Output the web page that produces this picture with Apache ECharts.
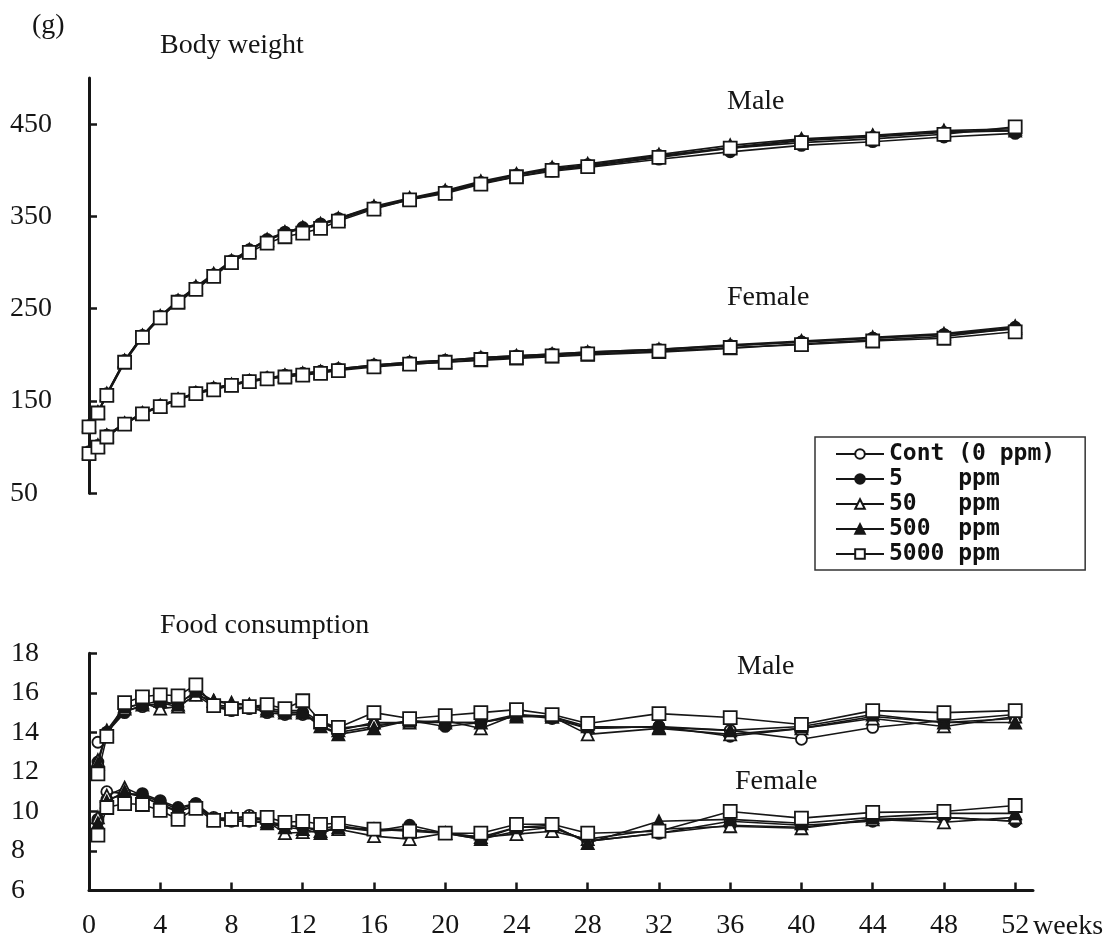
<!DOCTYPE html>
<html>
<head>
<meta charset="utf-8">
<script src="https://cdn.jsdelivr.net/npm/echarts@6/dist/echarts.min.js"></script>
<style>html,body{margin:0;padding:0;background:#fff}#c{width:1118px;height:942px}</style>
</head>
<body>
<div id="c"></div>
<script>
// ---- categories / x values ----
const weeksBW = [0, 0.5, 1, 2, 3, 4, 5, 6, 7, 8, 9, 10, 11, 12, 13, 14, 16, 18, 20, 22, 24, 26, 28, 32, 36, 40, 44, 48, 52];
const weeksFC = [0.5, 1, 2, 3, 4, 5, 6, 7, 8, 9, 10, 11, 12, 13, 14, 16, 18, 20, 22, 24, 26, 28, 32, 36, 40, 44, 48, 52];
const doseNames = ['Cont (0 ppm)', '5    ppm', '50   ppm', '500  ppm', '5000 ppm'];

// ---- Body weight (g), male ----
const bwMaleCont = [123, 138, 158, 194, 221, 242, 259, 273, 287, 302, 314, 325, 333, 338, 342, 348, 360, 369, 377, 387, 395, 402, 406, 416, 424, 432, 436, 441, 443];
const bwMale5    = [123, 137, 157, 193, 220, 241, 258, 272, 286, 301, 313, 324, 332, 337, 341, 347, 359, 368, 376, 386, 393, 399, 403, 412, 420, 427, 431, 436, 440];
const bwMale50   = [124, 138, 158, 194, 221, 242, 259, 274, 288, 302, 314, 325, 333, 338, 342, 348, 361, 370, 378, 388, 396, 403, 407, 417, 427, 434, 438, 443, 445];
const bwMale500  = [123, 137, 157, 193, 220, 241, 258, 273, 287, 301, 313, 324, 332, 337, 341, 347, 360, 369, 377, 387, 395, 401, 405, 415, 425, 433, 437, 442, 443];
const bwMale5000 = [122, 137, 156, 192, 219, 240, 257, 271, 285, 300, 311, 321, 328, 332, 337, 345, 358, 368, 375, 385, 393, 400, 404, 414, 424, 430, 434, 439, 447];

// ---- Body weight (g), female ----
const bwFemCont = [95, 102, 113, 126, 137, 145, 152, 159, 164, 168, 172, 175, 178, 180, 182, 185, 189, 192, 194, 197, 199, 201, 203, 206, 210, 214, 218, 222, 228];
const bwFem5    = [94, 101, 112, 126, 136, 145, 152, 159, 163, 168, 172, 175, 177, 180, 182, 184, 188, 191, 194, 196, 198, 200, 202, 205, 210, 214, 218, 222, 230];
const bwFem50   = [94, 101, 112, 125, 136, 144, 151, 158, 163, 167, 171, 174, 177, 179, 181, 184, 188, 190, 192, 194, 196, 198, 200, 203, 207, 212, 216, 220, 229];
const bwFem500  = [95, 102, 113, 126, 137, 145, 152, 159, 164, 168, 172, 175, 178, 180, 182, 185, 189, 192, 194, 197, 199, 201, 203, 206, 211, 215, 219, 223, 231];
const bwFem5000 = [93, 100, 111, 125, 136, 144, 151, 158, 162, 167, 171, 174, 176, 178, 180, 183, 187, 190, 192, 195, 197, 199, 201, 204, 208, 211, 215, 218, 225];

// ---- Food consumption (g/day), male ----
const fcMaleCont = [13.5, 14.0, 15.1, 15.3, 15.5, 15.3, 15.9, 15.3, 15.1, 15.3, 15.0, 14.9, 14.9, 14.5, 14.2, 14.4, 14.5, 14.5, 14.5, 14.8, 14.8, 14.2, 14.3, 14.1, 13.65, 14.25, 14.6, 14.9];
const fcMale5    = [12.5, 14.0, 15.0, 15.4, 15.4, 15.5, 16.0, 15.4, 15.3, 15.2, 15.1, 15.0, 15.0, 14.3, 14.0, 14.3, 14.6, 14.3, 14.5, 14.9, 14.7, 14.2, 14.3, 13.8, 14.2, 14.8, 14.5, 14.7];
const fcMale50   = [12.6, 14.0, 15.2, 15.5, 15.2, 15.3, 15.9, 15.6, 15.5, 15.4, 15.2, 15.1, 15.1, 14.5, 14.1, 14.5, 14.5, 14.6, 14.2, 14.9, 14.8, 13.9, 14.2, 13.9, 14.2, 14.7, 14.3, 14.8];
const fcMale500  = [12.4, 14.1, 15.3, 15.4, 15.6, 15.4, 16.1, 15.6, 15.4, 15.4, 15.1, 15.0, 15.0, 14.3, 13.9, 14.2, 14.6, 14.5, 14.5, 14.8, 14.8, 14.3, 14.25, 14.1, 14.3, 14.9, 14.5, 14.5];
const fcMale5000 = [11.9, 13.8, 15.5, 15.8, 15.9, 15.85, 16.4, 15.35, 15.2, 15.3, 15.4, 15.2, 15.6, 14.55, 14.25, 15.0, 14.7, 14.85, 15.0, 15.15, 14.9, 14.45, 14.95, 14.75, 14.4, 15.1, 15.0, 15.1];

// ---- Food consumption (g/day), female ----
const fcFemCont = [9.6, 11.0, 10.9, 10.8, 10.5, 10.1, 10.4, 9.7, 9.6, 9.8, 9.5, 9.3, 9.2, 9.1, 9.3, 9.0, 9.1, 8.9, 8.7, 9.2, 9.2, 8.5, 8.9, 9.5, 9.3, 9.5, 9.7, 9.5];
const fcFem5    = [9.5, 10.6, 10.85, 10.9, 10.55, 10.2, 10.4, 9.6, 9.5, 9.5, 9.4, 9.3, 9.2, 9.0, 9.2, 9.0, 9.3, 8.9, 8.6, 9.0, 9.2, 8.5, 8.9, 9.3, 9.2, 9.6, 9.7, 9.5];
const fcFem50   = [9.7, 10.8, 11.2, 10.8, 10.3, 10.0, 10.3, 9.6, 9.7, 9.7, 9.5, 8.9, 8.95, 9.0, 9.1, 8.75, 8.6, 8.9, 8.7, 8.85, 9.0, 8.6, 9.1, 9.25, 9.15, 9.6, 9.45, 9.7];
const fcFem500  = [9.4, 10.5, 11.0, 10.7, 10.4, 10.0, 10.3, 9.6, 9.6, 9.6, 9.4, 9.2, 9.1, 8.9, 9.2, 9.1, 9.1, 8.9, 8.6, 9.2, 9.3, 8.4, 9.5, 9.6, 9.4, 9.7, 9.9, 9.9];
const fcFem5000 = [8.8, 10.2, 10.4, 10.35, 10.05, 9.6, 10.15, 9.55, 9.6, 9.6, 9.7, 9.45, 9.5, 9.35, 9.4, 9.1, 9.0, 8.9, 8.9, 9.35, 9.35, 8.9, 9.0, 10.0, 9.66, 9.95, 10.0, 10.3];

// ---- tick values ----
const bwTicks = [50, 150, 250, 350, 450];
const weekTicks = [0, 4, 8, 12, 16, 20, 24, 28, 32, 36, 40, 44, 48, 52];

const INK = '#161616';
const serif = 'Liberation Serif';
const markers = [
  {symbol: 'circle', size: 11, fill: '#fff'},
  {symbol: 'circle', size: 11, fill: INK},
  {symbol: 'triangle', size: 12, fill: '#fff'},
  {symbol: 'triangle', size: 12, fill: INK},
  {symbol: 'rect', size: 13, fill: '#fff'}
];

const bwMale = [bwMaleCont, bwMale5, bwMale50, bwMale500, bwMale5000];
const bwFem = [bwFemCont, bwFem5, bwFem50, bwFem500, bwFem5000];
const fcMale = [fcMaleCont, fcMale5, fcMale50, fcMale500, fcMale5000];
const fcFem = [fcFemCont, fcFem5, fcFem50, fcFem500, fcFem5000];

function mk(i, xs, ys, gi) {
  const m = markers[i];
  return {
    type: 'line', name: doseNames[i], xAxisIndex: gi, yAxisIndex: gi,
    data: xs.map((x, j) => [x, ys[j]]),
    symbol: m.symbol, symbolSize: m.size, showAllSymbol: true,
    lineStyle: {color: INK, width: 1.6},
    itemStyle: {color: m.fill, borderColor: INK, borderWidth: 1.8},
    z: 2 + i, animation: false, silent: true
  };
}
const series = [];
for (let i = 0; i < 5; i++) {
  series.push(mk(i, weeksBW, bwMale[i], 0));
  series.push(mk(i, weeksBW, bwFem[i], 0));
  series.push(mk(i, weeksFC, fcMale[i], 1));
  series.push(mk(i, weeksFC, fcFem[i], 1));
}

const axisLineStyle = {show: true, lineStyle: {color: INK, width: 3}};
const tickStyle = {show: true, inside: true, length: 8, lineStyle: {color: INK, width: 2.5}};
const lblStyle = {fontFamily: serif, fontSize: 28, color: '#151515'};

function title(text, left, top) {
  return {text, left, top, padding: 0, textStyle: {fontFamily: serif, fontSize: 28, fontWeight: 'normal', color: '#151515'}};
}

const option = {
  backgroundColor: '#fff',
  animation: false,
  title: [
    title('(g)', 32, 12),
    title('Body weight', 160, 32),
    title('Male', 727, 88),
    title('Female', 727, 284),
    title('Food consumption', 160, 612),
    title('Male', 737, 653),
    title('Female', 735, 768)
  ],
  legend: {
    data: doseNames, orient: 'vertical', left: 815, top: 437,
    padding: [5, 30, 4, 20], itemWidth: 48, itemHeight: 12, itemGap: 1,
    borderColor: '#333', borderWidth: 1.5, selectedMode: false,
    textStyle: {fontFamily: 'DejaVu Sans Mono', fontWeight: 'bold', fontSize: 23, color: '#111', lineHeight: 24}
  },
  grid: [
    {left: 89, right: 85, top: 78, height: 415.3},
    {left: 89, right: 85, top: 653.3, height: 237.2}
  ],
  xAxis: [
    {type: 'value', gridIndex: 0, min: 0, max: 53, show: false},
    {type: 'value', gridIndex: 1, min: 0, max: 53,
      axisLine: axisLineStyle, splitLine: {show: false},
      axisTick: Object.assign({customValues: weekTicks}, tickStyle),
      axisLabel: Object.assign({customValues: weekTicks, margin: 21}, lblStyle),
      name: 'weeks', nameLocation: 'end', nameGap: -2,
      nameTextStyle: {fontFamily: serif, fontSize: 28, color: '#151515', align: 'left', verticalAlign: 'top', padding: [22, 0, 0, 0]}
    }
  ],
  yAxis: [
    {type: 'value', gridIndex: 0, min: 50, max: 500,
      axisLine: axisLineStyle, splitLine: {show: false},
      axisTick: Object.assign({customValues: bwTicks}, tickStyle),
      axisLabel: Object.assign({customValues: bwTicks, align: 'left', margin: 79}, lblStyle)
    },
    {type: 'value', gridIndex: 1, min: 6, max: 18, interval: 2,
      axisLine: axisLineStyle, splitLine: {show: false},
      axisTick: tickStyle,
      axisLabel: Object.assign({align: 'left', margin: 78}, lblStyle)
    }
  ],
  series
};
const chart = echarts.init(document.getElementById('c'), null, {renderer: 'canvas'});
chart.setOption(option);
</script>
</body>
</html>
